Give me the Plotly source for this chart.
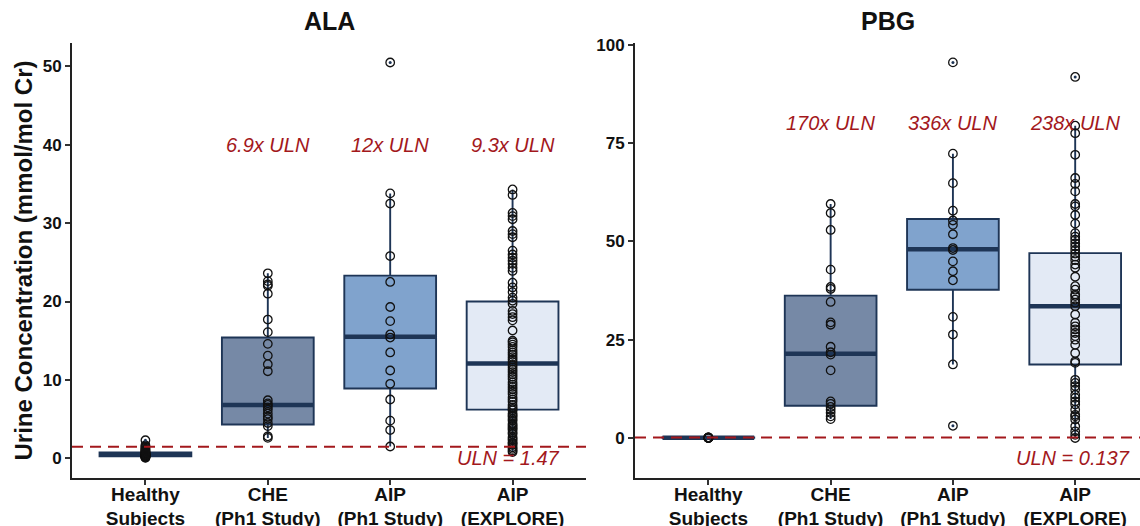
import plotly.graph_objects as go

# ---------------- data ----------------
categories = ["Healthy<br>Subjects", "CHE<br>(Ph1 Study)", "AIP<br>(Ph1 Study)", "AIP<br>(EXPLORE)"]
box_fills = ["#2b4a72", "#7689a6", "#80a3cd", "#e3eaf5"]

# ALA (mmol/mol Cr)
ala_healthy = [0.05, 0.1, 0.15, 0.2, 0.22, 0.25, 0.28, 0.3, 0.33, 0.35, 0.38, 0.4, 0.42, 0.45,
               0.47, 0.5, 0.52, 0.55, 0.6, 0.65, 0.7, 0.75, 0.8, 0.9, 1.0, 1.1, 1.2, 1.35, 1.5,
               1.65, 2.3]
ala_che = [23.6, 22.6, 22.2, 22.0, 21.0, 17.7, 16.1, 14.6, 13.1, 12.0, 11.1, 7.4, 7.0, 6.8,
           6.5, 6.2, 5.7, 5.3, 5.0, 4.5, 4.1, 2.8, 2.6]
ala_aip = [50.5, 33.8, 32.5, 25.8, 22.5, 19.3, 17.5, 15.8, 15.4, 13.5, 11.2, 9.5, 7.5, 4.8,
           3.6, 1.5]
ala_explore = [34.3, 33.6, 31.3, 30.9, 30.5, 29.0, 28.6, 28.2, 26.5, 26.0, 25.6, 25.2, 24.8,
               24.3, 23.9, 22.4, 21.8, 21.2, 20.5, 20.1, 19.7, 18.8, 18.4, 18.0, 17.6, 16.3,
               15.0, 14.8, 14.5, 14.2, 13.8, 13.5, 13.2, 12.9, 12.6, 12.3, 11.9, 11.6, 11.3,
               11.0, 10.7, 10.4, 10.1, 9.7, 9.4, 9.1, 8.8, 8.5, 8.2, 7.8, 7.5, 7.2, 6.8, 6.5,
               6.3, 6.1, 5.7, 5.5, 5.3, 5.0, 4.8, 4.4, 4.2, 4.0, 3.8, 3.6, 3.3, 3.1, 2.7, 2.5,
               2.3, 2.0, 1.9, 1.7, 1.4, 1.2, 1.0, 0.8]
ala_points = [ala_healthy, ala_che, ala_aip, ala_explore]
ala_q1 = [0.25, 4.3, 8.9, 6.2]
ala_median = [0.5, 6.8, 15.5, 12.1]
ala_q3 = [0.75, 15.4, 23.3, 20.0]
ala_lowerfence = [0.05, 2.6, 1.5, 0.8]
ala_upperfence = [1.65, 23.6, 33.8, 34.3]
ala_outliers = [[2.3], [], [50.5], []]
ala_fold = ["", "6.9x ULN", "12x ULN", "9.3x ULN"]
ala_uln = 1.47

# PBG (mmol/mol Cr)
pbg_healthy = [0.0, 0.02, 0.04, 0.05, 0.06, 0.08, 0.09, 0.1, 0.12, 0.15]
pbg_che = [59.5, 57.2, 52.9, 42.8, 38.4, 37.9, 34.6, 29.4, 28.8, 23.2, 21.8, 21.2, 17.2,
           9.3, 8.7, 7.9, 7.2, 6.4, 5.5, 4.8]
pbg_aip = [95.5, 72.3, 64.8, 57.8, 55.3, 54.2, 51.8, 48.3, 47.8, 44.9, 42.4, 40.1, 30.8,
           26.3, 18.7, 3.1]
pbg_explore = [91.8, 79.4, 77.5, 72.0, 66.1, 64.6, 62.7, 59.5, 58.9, 56.7, 54.5, 52.1, 51.2,
               50.4, 49.5, 48.7, 47.8, 46.9, 46.1, 45.2, 44.1, 43.3, 41.0, 38.6, 37.7, 36.5,
               36.1, 35.2, 34.4, 33.5, 31.4, 29.3, 28.4, 27.6, 26.7, 25.9, 25.0, 23.7, 21.6,
               19.5, 19.1, 14.8, 14.0, 13.2, 12.3, 11.0, 10.2, 9.3, 8.5, 7.2, 5.9, 5.5, 4.7,
               3.0, 1.7, 0.8, 0.0]
pbg_points = [pbg_healthy, pbg_che, pbg_aip, pbg_explore]
pbg_q1 = [0.04, 8.2, 37.7, 18.7]
pbg_median = [0.08, 21.4, 48.0, 33.5]
pbg_q3 = [0.12, 36.2, 55.7, 47.0]
pbg_lowerfence = [0.0, 4.8, 18.7, 0.0]
pbg_upperfence = [0.15, 59.5, 72.3, 79.4]
pbg_outliers = [[], [], [95.5, 3.1], [91.8]]
pbg_fold = ["", "170x ULN", "336x ULN", "238x ULN"]
pbg_uln = 0.137

# ---------------- style ----------------
EDGE = "#1e3556"
RED = "#a3181c"
FONT = "Liberation Sans"
W, H = 1140, 526
M_T = 43.3
M_B = H - 478.3
PLOT_H = H - M_T - M_B

fig = go.Figure()

panels = [
    dict(xa="x", ya="y", pts=ala_points, q1=ala_q1, med=ala_median, q3=ala_q3,
         lf=ala_lowerfence, uf=ala_upperfence, out=ala_outliers, fold=ala_fold,
         fold_y=40, uln=ala_uln, uln_text="ULN = 1.47", uln_x=0.953, uln_y=0.0, title="ALA"),
    dict(xa="x2", ya="y2", pts=pbg_points, q1=pbg_q1, med=pbg_median, q3=pbg_q3,
         lf=pbg_lowerfence, uf=pbg_upperfence, out=pbg_outliers, fold=pbg_fold,
         fold_y=80, uln=pbg_uln, uln_text="ULN = 0.137", uln_x=0.984, uln_y=-5.1, title="PBG"),
]

annotations = []
shapes = []
for p in panels:
    for i in range(len(categories)):
        fig.add_trace(go.Box(
            x=[i], q1=[p["q1"][i]], median=[p["med"][i]], q3=[p["q3"][i]],
            lowerfence=[p["lf"][i]], upperfence=[p["uf"][i]],
            width=0.75, whiskerwidth=0, boxpoints=False,
            fillcolor=box_fills[i], line=dict(color=EDGE, width=1.9),
            xaxis=p["xa"], yaxis=p["ya"], showlegend=False, hoverinfo="skip"))
        # thick median bar
        fig.add_trace(go.Scatter(
            x=[i - 0.375, i + 0.375], y=[p["med"][i], p["med"][i]], mode="lines",
            line=dict(color=EDGE, width=4.5), xaxis=p["xa"], yaxis=p["ya"],
            showlegend=False, hoverinfo="skip"))
        vals = p["pts"][i]
        fig.add_trace(go.Scatter(
            x=[i] * len(vals), y=vals, mode="markers",
            marker=dict(symbol="circle-open", size=8.5, color="#111111", line=dict(width=1.3)),
            xaxis=p["xa"], yaxis=p["ya"], showlegend=False, hoverinfo="skip"))
        if p["out"][i]:
            fig.add_trace(go.Scatter(
                x=[i] * len(p["out"][i]), y=p["out"][i], mode="markers",
                marker=dict(symbol="circle", size=3, color=EDGE),
                xaxis=p["xa"], yaxis=p["ya"], showlegend=False, hoverinfo="skip"))
        if p["fold"][i]:
            annotations.append(dict(
                x=i, y=p["fold_y"], xref=p["xa"], yref=p["ya"], text=p["fold"][i],
                showarrow=False, font=dict(family=FONT, size=20, color=RED, style="italic")))
    shapes.append(dict(
        type="line", xref=p["xa"] + " domain", x0=0, x1=1, yref=p["ya"],
        y0=p["uln"], y1=p["uln"], layer="above",
        line=dict(color=RED, width=2, dash="11px,7px")))
    annotations.append(dict(
        x=p["uln_x"], y=p["uln_y"], xref=p["xa"] + " domain", yref=p["ya"],
        text=p["uln_text"], xanchor="right", yanchor="middle", showarrow=False,
        font=dict(family=FONT, size=20, color=RED, style="italic")))
    annotations.append(dict(
        x=0.5, y=1 + (M_T - 21) / PLOT_H, xref=p["xa"] + " domain", yref="paper",
        text=p["title"], showarrow=False, yanchor="middle",
        font=dict(family=FONT, size=25, color="#111111", weight="bold")))

annotations.append(dict(
    x=23 / W, y=0.5, xref="paper", yref="paper", text="Urine Concentration (mmol/mol Cr)",
    textangle=-90, showarrow=False, xanchor="center", yanchor="middle",
    font=dict(family=FONT, size=24, color="#111111", weight="bold")))

xcommon = dict(tickmode="array", tickvals=list(range(len(categories))), ticktext=categories,
               showline=True, linecolor="#222222", linewidth=1.8, ticks="outside",
               ticklen=5, tickwidth=1.5, tickcolor="#333333", showgrid=False, zeroline=False,
               ticklabelstandoff=-7, automargin=False,
               tickfont=dict(family=FONT, size=19, color="#111111", weight="bold"))
ycommon = dict(showline=True, linecolor="#222222", linewidth=1.8, ticks="outside",
               ticklen=5, tickwidth=1.5, tickcolor="#333333", showgrid=False, zeroline=False,
               tick0=0, automargin=False,
               tickfont=dict(family=FONT, size=17, color="#111111", weight="bold"))

fig.update_layout(
    width=W, height=H, plot_bgcolor="white", paper_bgcolor="white",
    margin=dict(l=0, r=0, t=M_T, b=M_B, autoexpand=False),
    boxmode="overlay",
    xaxis=dict(domain=[72 / W, 586 / W], range=[-0.6, 3.6], **xcommon),
    yaxis=dict(anchor="x", range=[-2.52, 52.99], dtick=10, **ycommon),
    xaxis2=dict(domain=[635 / W, 1.0], range=[-0.6, 3.53], anchor="y2", **xcommon),
    yaxis2=dict(anchor="x2", range=[-10.17, 100.43], dtick=25, **ycommon),
    annotations=annotations, shapes=shapes,
)

# remove the default 8px page margin so the figure sits at the window's corner
fig.write_html("out.html",
               config={"displayModeBar": False},
               post_script="document.body.style.margin='0px';"
                           "document.body.style.overflow='hidden';")
